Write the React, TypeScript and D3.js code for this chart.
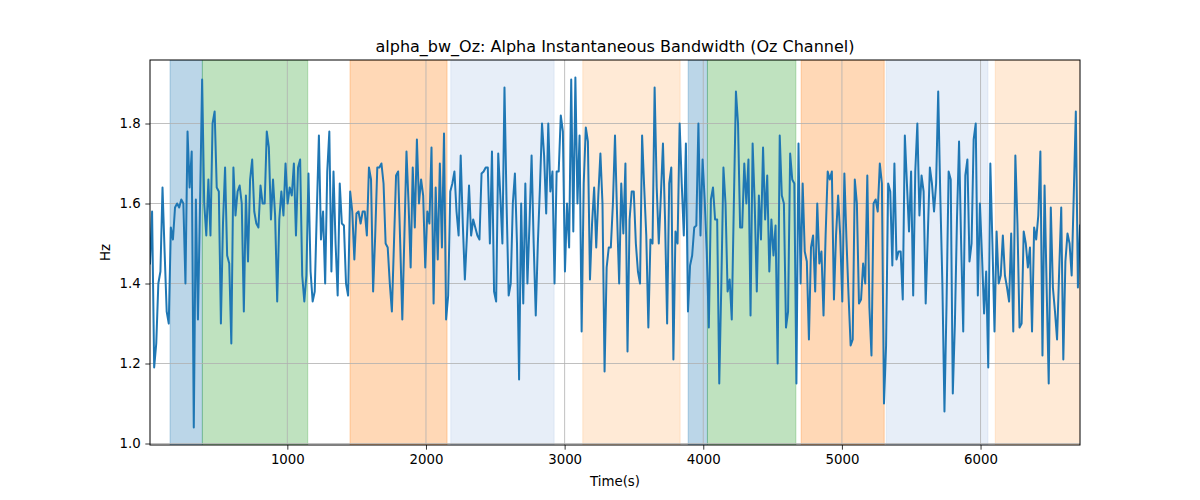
import React, { useEffect, useRef } from "react";
import * as d3 from "d3";

// Alpha instantaneous bandwidth, Oz channel (Hz), one sample every ~15 s
const bandwidth: number[] = [
  1.45, 1.58, 1.19, 1.25, 1.40, 1.43, 1.64, 1.48, 1.33, 1.30, 1.54, 1.51, 1.59, 1.60, 1.59, 1.61,
  1.60, 1.40, 1.78, 1.64, 1.73, 1.04, 1.61, 1.31, 1.60, 1.91, 1.60, 1.52, 1.66, 1.52, 1.80, 1.83,
  1.64, 1.63, 1.30, 1.55, 1.69, 1.47, 1.45, 1.25, 1.69, 1.57, 1.63, 1.645, 1.60, 1.33, 1.62, 1.455,
  1.66, 1.71, 1.58, 1.55, 1.54, 1.645, 1.60, 1.60,
  1.78, 1.74, 1.56, 1.66, 1.57, 1.355, 1.56, 1.63, 1.57, 1.70, 1.60, 1.64, 1.62, 1.70, 1.52, 1.69,
  1.71, 1.42, 1.355, 1.42, 1.675, 1.43, 1.355, 1.38, 1.58, 1.77, 1.51, 1.58, 1.40, 1.68, 1.78, 1.43,
  1.68, 1.50, 1.37, 1.65, 1.55, 1.545, 1.40, 1.37, 1.63, 1.58, 1.46, 1.575, 1.58, 1.55, 1.58, 1.58,
  1.52, 1.69, 1.66, 1.38, 1.52, 1.69, 1.69, 1.70, 1.65, 1.50, 1.49,
  1.40, 1.33, 1.50, 1.67, 1.68, 1.50, 1.31, 1.52, 1.73, 1.60, 1.44, 1.69, 1.54, 1.76, 1.60, 1.66,
  1.62, 1.44, 1.58, 1.55, 1.74, 1.35, 1.64, 1.46, 1.70, 1.49, 1.775, 1.31, 1.37, 1.63, 1.65, 1.68,
  1.58, 1.52, 1.72, 1.55, 1.41, 1.52, 1.645, 1.52, 1.56, 1.54, 1.52, 1.51, 1.675, 1.68, 1.69, 1.69,
  1.50, 1.73, 1.38, 1.355, 1.725, 1.62, 1.50, 1.89, 1.60, 1.37,
  1.40, 1.60, 1.675, 1.50, 1.16, 1.60, 1.35, 1.65, 1.40, 1.55, 1.72, 1.50, 1.32, 1.50, 1.64, 1.80,
  1.72, 1.575, 1.80, 1.63, 1.68, 1.40, 1.68, 1.68, 1.82, 1.78, 1.43, 1.60, 1.49, 1.91, 1.53, 1.915,
  1.60, 1.77, 1.28, 1.65, 1.79, 1.755, 1.41, 1.55, 1.64, 1.49, 1.62, 1.725, 1.60, 1.18, 1.44, 1.49,
  1.49, 1.60, 1.77, 1.57, 1.40, 1.65, 1.525, 1.70, 1.23,
  1.56, 1.63, 1.63, 1.50, 1.43, 1.40, 1.77, 1.64, 1.52, 1.29, 1.51, 1.50, 1.89, 1.64, 1.50, 1.62,
  1.75, 1.56, 1.30, 1.65, 1.69, 1.21, 1.53, 1.50, 1.80, 1.65, 1.52, 1.75, 1.33, 1.445, 1.47, 1.54,
  1.545, 1.80, 1.52, 1.71, 1.61, 1.48, 1.29, 1.61, 1.64, 1.56, 1.56, 1.15, 1.40, 1.69, 1.60, 1.38,
  1.41, 1.31, 1.60, 1.88, 1.80, 1.54, 1.54, 1.70, 1.60, 1.71,
  1.32, 1.75, 1.60, 1.38, 1.62, 1.51, 1.74, 1.56, 1.67, 1.43, 1.56, 1.47, 1.545, 1.20, 1.77, 1.62,
  1.60, 1.29, 1.33, 1.725, 1.66, 1.65, 1.15, 1.75, 1.40, 1.65, 1.48, 1.455, 1.26, 1.49, 1.52, 1.38,
  1.60, 1.45, 1.48, 1.32, 1.52, 1.68, 1.66, 1.68, 1.36, 1.52, 1.62, 1.52, 1.355, 1.675, 1.51, 1.37,
  1.245, 1.26, 1.66, 1.60, 1.35, 1.36, 1.45, 1.40, 1.67, 1.34,
  1.22, 1.60, 1.61, 1.58, 1.70, 1.65, 1.10, 1.245, 1.65, 1.63, 1.445, 1.70, 1.46, 1.48, 1.48, 1.36,
  1.77, 1.65, 1.53, 1.68, 1.37, 1.68, 1.80, 1.57, 1.67, 1.63, 1.35, 1.52, 1.69, 1.65, 1.58, 1.65,
  1.88, 1.62, 1.40, 1.08, 1.35, 1.68, 1.66, 1.125, 1.30, 1.56, 1.755, 1.50, 1.28, 1.67, 1.71, 1.455,
  1.50, 1.76, 1.80, 1.37, 1.60, 1.47, 1.325, 1.43, 1.19, 1.70,
  1.50, 1.28, 1.53, 1.40, 1.42, 1.52, 1.42, 1.39, 1.355, 1.525, 1.28, 1.72, 1.55, 1.29, 1.30, 1.53,
  1.50, 1.44, 1.49, 1.28, 1.54, 1.51, 1.57, 1.73, 1.22, 1.645, 1.39, 1.15, 1.59, 1.39, 1.33, 1.26,
  1.43, 1.59, 1.21, 1.455, 1.525, 1.50, 1.42, 1.62, 1.83, 1.39, 1.545,
];

const startTime = 9.4;
const sampleStep = 15.04;

// shaded stage intervals (seconds)
const spanStarts = [154, 387, 1452, 2179, 3131, 3891, 4030, 4706, 5320, 6106];
const spanEnds = [387, 1147, 2152, 2924, 3833, 4030, 4668, 5305, 6053, 6760];
const spanColors = [
  "#1f77b4", "#2ca02c", "#ff7f0e", "#aec7e8", "#ffbb78",
  "#1f77b4", "#2ca02c", "#ff7f0e", "#aec7e8", "#ffbb78",
];

const yTicks = [1.0, 1.2, 1.4, 1.6, 1.8];
const xTicks = [1000, 2000, 3000, 4000, 5000, 6000];

const App: React.FC = () => {
  const ref = useRef<SVGSVGElement>(null);

  useEffect(() => {
    document.body.style.margin = "0";
    const W = 1200;
    const H = 500;
    const margin = { top: 60, right: 120, bottom: 55, left: 150 };
    const width = W - margin.left - margin.right;
    const height = H - margin.top - margin.bottom;
    const font = "DejaVu Sans, sans-serif";

    const root = d3.select(ref.current);
    root.selectAll("*").remove();
    root.attr("width", W).attr("height", H);

    const times = bandwidth.map((_, i) => startTime + i * sampleStep);

    const x = d3
      .scaleLinear()
      .domain([times[0], times[times.length - 1]])
      .range([0, width]);

    const lo = d3.min(bandwidth) as number;
    const hi = d3.max(bandwidth) as number;
    const pad = (hi - lo) * 0.05;
    const y = d3.scaleLinear().domain([lo - pad, hi + pad]).range([height, 0]);

    const svg = root
      .append("g")
      .attr("transform", `translate(${margin.left},${margin.top})`);

    svg
      .append("clipPath")
      .attr("id", "plot-clip")
      .append("rect")
      .attr("width", width)
      .attr("height", height);

    const plot = svg.append("g").attr("clip-path", "url(#plot-clip)");

    // stage spans
    plot
      .selectAll(".span")
      .data(spanStarts)
      .enter()
      .append("rect")
      .attr("x", (d) => x(d))
      .attr("y", 0)
      .attr("width", (d, i) => x(spanEnds[i]) - x(d))
      .attr("height", height)
      .attr("fill", (d, i) => spanColors[i])
      .attr("fill-opacity", 0.3)
      .attr("stroke", (d, i) => spanColors[i])
      .attr("stroke-opacity", 0.3)
      .attr("stroke-width", 1);

    // grid
    plot
      .selectAll(".gx")
      .data(xTicks)
      .enter()
      .append("line")
      .attr("x1", (d) => x(d))
      .attr("x2", (d) => x(d))
      .attr("y1", 0)
      .attr("y2", height)
      .attr("stroke", "#b0b0b0")
      .attr("stroke-width", 0.8);

    plot
      .selectAll(".gy")
      .data(yTicks)
      .enter()
      .append("line")
      .attr("x1", 0)
      .attr("x2", width)
      .attr("y1", (d) => y(d))
      .attr("y2", (d) => y(d))
      .attr("stroke", "#b0b0b0")
      .attr("stroke-width", 0.8);

    // data line
    const line = d3
      .line<number>()
      .x((d, i) => x(times[i]))
      .y((d) => y(d));

    plot
      .append("path")
      .datum(bandwidth)
      .attr("d", line)
      .attr("fill", "none")
      .attr("stroke", "#1f77b4")
      .attr("stroke-width", 2)
      .attr("stroke-linejoin", "round")
      .attr("stroke-linecap", "square");

    // axes
    const xAxis = svg
      .append("g")
      .attr("transform", `translate(0,${height})`)
      .call(
        d3
          .axisBottom(x)
          .tickValues(xTicks)
          .tickSize(4.67)
          .tickPadding(4.67)
          .tickFormat(d3.format("d"))
      );

    const yAxis = svg.append("g").call(
      d3
        .axisLeft(y)
        .tickValues(yTicks)
        .tickSize(4.67)
        .tickPadding(4.67)
        .tickFormat(d3.format(".1f"))
    );

    [xAxis, yAxis].forEach((ax) => {
      ax.select(".domain").remove();
      ax.selectAll("line").attr("stroke", "#000").attr("stroke-width", 0.8);
      ax.selectAll("text")
        .attr("fill", "#000")
        .style("font-family", font)
        .style("font-size", "13.33px");
    });

    // spines
    svg
      .append("rect")
      .attr("width", width)
      .attr("height", height)
      .attr("fill", "none")
      .attr("stroke", "#000")
      .attr("stroke-width", 1);

    // labels
    root
      .append("text")
      .attr("x", margin.left + width / 2)
      .attr("y", 52)
      .attr("text-anchor", "middle")
      .style("font-family", font)
      .style("font-size", "16px")
      .text("alpha_bw_Oz: Alpha Instantaneous Bandwidth (Oz Channel)");

    root
      .append("text")
      .attr("x", margin.left + width / 2)
      .attr("y", 486)
      .attr("text-anchor", "middle")
      .style("font-family", font)
      .style("font-size", "13.33px")
      .text("Time(s)");

    root
      .append("text")
      .attr("transform", `translate(110,${margin.top + height / 2}) rotate(-90)`)
      .attr("text-anchor", "middle")
      .style("font-family", font)
      .style("font-size", "13.33px")
      .text("Hz");
  }, []);

  return <svg ref={ref} style={{ display: "block" }}></svg>;
};

export default App;
